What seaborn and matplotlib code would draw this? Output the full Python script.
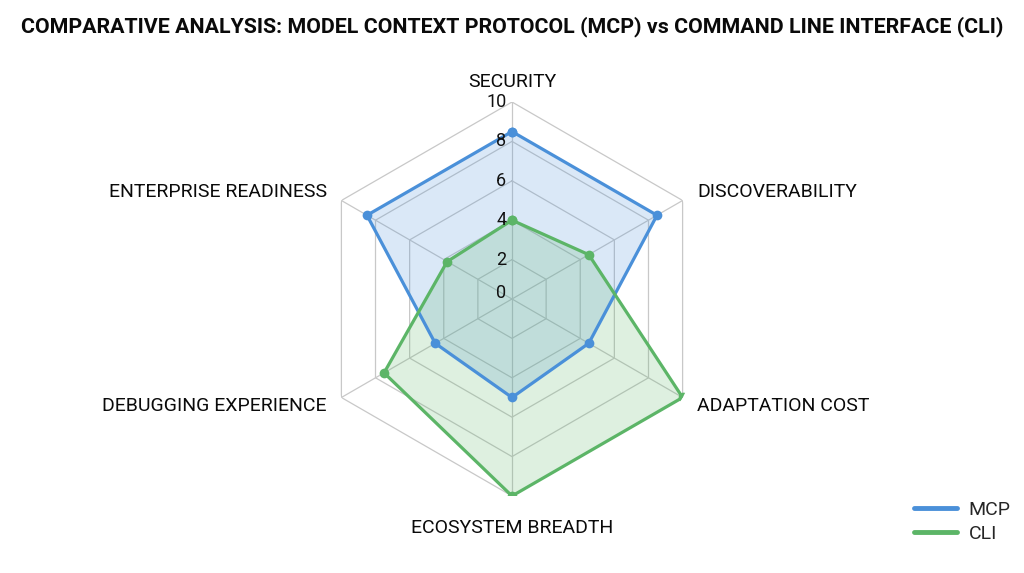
import numpy as np
import pandas as pd
import matplotlib.pyplot as plt
import matplotlib.transforms as mtransforms
from matplotlib.lines import Line2D
import seaborn as sns

# chart data
categories = ["SECURITY", "DISCOVERABILITY", "ADAPTATION COST",
              "ECOSYSTEM BREADTH", "DEBUGGING EXPERIENCE", "ENTERPRISE READINESS"]
mcp_scores = [8.5, 8.5, 4.5, 5.0, 4.5, 8.5]
cli_scores = [4.0, 4.5, 10.0, 10.0, 7.5, 3.8]
ring_values = [0, 2, 4, 6, 8, 10]
series_names = ["MCP", "CLI"]
colors = {"MCP": "#4a90d9", "CLI": "#5cb567"}

sns.set_theme(style="white")
plt.rcParams['font.family'] = ['Roboto', 'DejaVu Sans']

n = len(categories)
angles = np.linspace(0, 2 * np.pi, n, endpoint=False)
angles_closed = np.append(angles, angles[0])

rows = []
for name, scores in zip(series_names, [mcp_scores, cli_scores]):
    for k, (a, v) in enumerate(zip(angles_closed, scores + scores[:1])):
        rows.append({"series": name, "angle": a, "score": v, "order": k})
df = pd.DataFrame(rows)

fig = plt.figure(figsize=(10.24, 5.73), dpi=100)
ax = fig.add_axes([0.3076, 0.1344, 0.3848, 0.6876], projection="polar")
ax.set_theta_zero_location("N")
ax.set_theta_direction(-1)
ax.set_ylim(0, 10)
ax.grid(False)
ax.spines["polar"].set_visible(False)
ax.set_xticks([])
ax.set_yticks([])
ax.set_facecolor("white")

# hexagonal grid
for v in ring_values[1:]:
    ax.plot(angles_closed, [v] * (n + 1), color="#c8c8c8", lw=0.9, zorder=1)
for a in angles:
    ax.plot([a, a], [0, 10], color="#c8c8c8", lw=0.9, zorder=1)

# data polygons
for name, scores in zip(series_names, [mcp_scores, cli_scores]):
    ax.fill(angles_closed, scores + scores[:1], color=colors[name], alpha=0.2, zorder=2, lw=0)
sns.lineplot(data=df, x="angle", y="score", hue="series", palette=colors, sort=False,
             estimator=None, units="series", marker="o", markersize=7, markeredgewidth=0,
             linewidth=2.3, ax=ax, legend=False, zorder=3)
ax.set_xlabel("")
ax.set_ylabel("")
ax.set_ylim(0, 10)

# radial tick labels
off = mtransforms.offset_copy(ax.transData, fig=fig, x=-4, y=0, units="points")
for v in ring_values:
    dy = 0.3 if v == 0 else 0.0
    ax.text(0, v + dy, str(v), transform=off, ha="right", va="center",
            fontsize=13, color="#111111", zorder=5)

# category labels
label_spec = [(11.0, "center", "center"), (10.85, "left", "center"), (10.85, "left", "center"),
              (11.6, "center", "center"), (10.85, "right", "center"), (10.85, "right", "center")]
for a, lab, (r, ha, va) in zip(angles, categories, label_spec):
    ax.text(a, r, lab, ha=ha, va=va, fontsize=14, color="#0a0a0a")

fig.text(0.5, 1 - 27 / 573, "COMPARATIVE ANALYSIS: MODEL CONTEXT PROTOCOL (MCP) vs COMMAND LINE INTERFACE (CLI)",
         ha="center", va="center", fontsize=15.4, fontweight="bold", color="#0a0a0a")

handles = [Line2D([0], [0], color=colors[s], lw=3.5) for s in series_names]
fig.legend(handles, series_names, loc="lower right", bbox_to_anchor=(1.004, 0.022),
           frameon=False, fontsize=14, handlelength=2.2, handletextpad=0.6, labelspacing=0.3)

fig.savefig("out.png", dpi=100, facecolor="white")
